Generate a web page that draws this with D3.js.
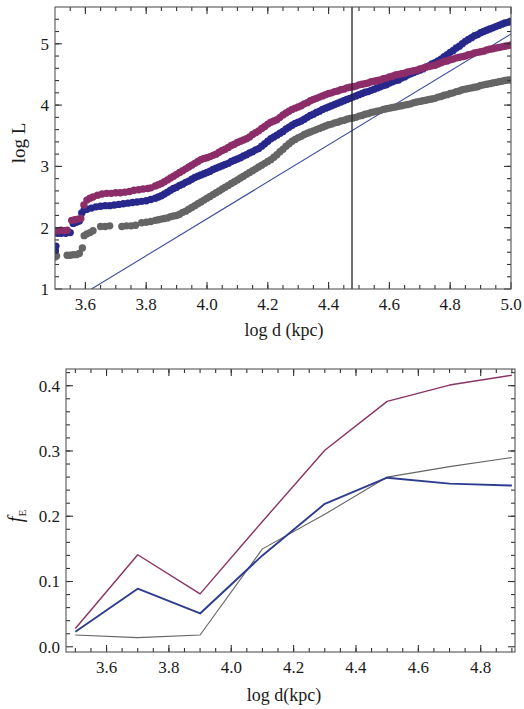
<!DOCTYPE html>
<html>
<head>
<meta charset="utf-8">
<script src="https://cdn.jsdelivr.net/npm/d3@7"></script>
<style>
  body { margin: 0; background: #fff; }
  text { font-family: "Liberation Serif", "DejaVu Serif", serif; fill: #1a1a1a; }
</style>
</head>
<body>
<svg width="524" height="709"></svg>
<script>
// ---------- top panel: log L vs log d ----------
// sparse points at small distance, [log d, log L]
var lowPurple = [[3.500,1.95],[3.510,1.95],[3.520,1.96],[3.530,1.95],[3.540,1.96],[3.555,2.12],[3.565,2.13],
  [3.575,2.14],[3.585,2.15],[3.595,2.37],[3.605,2.45],[3.615,2.48],[3.625,2.50],[3.640,2.53],[3.655,2.55],
  [3.670,2.56],[3.685,2.56],[3.700,2.57],[3.715,2.57],[3.730,2.58],[3.745,2.59],[3.760,2.61],[3.775,2.62],
  [3.790,2.63],[3.805,2.64],[3.815,2.65]];
var lowBlue = [[3.501,1.63],[3.503,1.70],[3.508,1.91],[3.520,1.91],[3.535,1.91],[3.550,1.92],[3.560,2.07],
  [3.570,2.09],[3.580,2.11],[3.588,2.24],[3.596,2.29],[3.605,2.30],[3.620,2.32],[3.635,2.34],[3.650,2.35],
  [3.665,2.36],[3.680,2.36],[3.695,2.37],[3.710,2.38],[3.725,2.39],[3.740,2.40],[3.755,2.41],[3.770,2.42],
  [3.785,2.43],[3.800,2.44],[3.815,2.46]];
var lowGray = [[3.500,1.52],[3.505,1.54],[3.540,1.55],[3.550,1.55],[3.560,1.56],[3.570,1.56],[3.580,1.58],
  [3.590,1.67],[3.596,1.87],[3.605,1.90],[3.615,1.92],[3.625,1.95],[3.650,2.02],[3.665,2.02],[3.680,2.03],
  [3.720,2.02],[3.735,2.03],[3.750,2.03],[3.765,2.04],[3.785,2.08],[3.800,2.09],[3.815,2.10]];

// dense part, shared log d
var denseD = [
  3.83,3.84,3.85,3.86,3.87,3.88,3.89,3.90,3.91,3.92,
  3.93,3.94,3.95,3.96,3.97,3.98,3.99,4.00,4.01,4.02,
  4.03,4.04,4.05,4.06,4.07,4.08,4.09,4.10,4.11,4.12,
  4.13,4.14,4.15,4.16,4.17,4.18,4.19,4.20,4.21,4.22,
  4.23,4.24,4.25,4.26,4.27,4.28,4.29,4.30,4.31,4.32,
  4.33,4.34,4.35,4.36,4.37,4.38,4.39,4.40,4.41,4.42,
  4.43,4.44,4.45,4.46,4.47,4.48,4.49,4.50,4.51,4.52,
  4.53,4.54,4.55,4.56,4.57,4.58,4.59,4.60,4.61,4.62,
  4.63,4.64,4.65,4.66,4.67,4.68,4.69,4.70,4.71,4.72,
  4.73,4.74,4.75,4.76,4.77,4.78,4.79,4.80,4.81,4.82,
  4.83,4.84,4.85,4.86,4.87,4.88,4.89,4.90,4.91,4.92,
  4.93,4.94,4.95,4.96,4.97,4.98,4.99,5.00];
var densePurple = [
  2.68,2.70,2.72,2.75,2.78,2.81,2.84,2.87,2.90,2.93,
  2.96,2.99,3.02,3.05,3.08,3.11,3.13,3.14,3.16,3.18,
  3.20,3.23,3.26,3.28,3.31,3.34,3.36,3.39,3.41,3.43,
  3.45,3.48,3.52,3.55,3.58,3.62,3.65,3.69,3.72,3.74,
  3.76,3.80,3.84,3.87,3.90,3.93,3.95,3.97,3.99,4.02,
  4.04,4.07,4.09,4.11,4.13,4.15,4.17,4.19,4.20,4.22,
  4.23,4.25,4.26,4.28,4.29,4.30,4.31,4.33,4.34,4.35,
  4.36,4.38,4.39,4.40,4.41,4.43,4.44,4.46,4.47,4.49,
  4.50,4.51,4.52,4.54,4.55,4.56,4.57,4.59,4.60,4.62,
  4.63,4.64,4.65,4.67,4.69,4.71,4.72,4.74,4.75,4.77,
  4.78,4.79,4.80,4.82,4.83,4.85,4.86,4.87,4.88,4.90,
  4.91,4.92,4.93,4.94,4.95,4.96,4.97,4.98];
var denseBlue = [
  2.48,2.50,2.52,2.55,2.58,2.61,2.64,2.66,2.69,2.71,
  2.74,2.76,2.79,2.82,2.84,2.86,2.88,2.90,2.92,2.95,
  2.97,2.99,3.01,3.03,3.05,3.08,3.10,3.12,3.14,3.17,
  3.19,3.22,3.24,3.27,3.29,3.33,3.37,3.41,3.45,3.48,
  3.51,3.54,3.57,3.61,3.64,3.67,3.70,3.72,3.74,3.77,
  3.80,3.83,3.85,3.88,3.90,3.93,3.95,3.97,3.99,4.01,
  4.03,4.05,4.07,4.09,4.11,4.13,4.15,4.17,4.19,4.21,
  4.22,4.24,4.26,4.28,4.30,4.32,4.33,4.36,4.38,4.40,
  4.41,4.44,4.46,4.49,4.51,4.53,4.55,4.57,4.59,4.62,
  4.64,4.67,4.69,4.72,4.75,4.79,4.82,4.86,4.89,4.93,
  4.96,5.00,5.04,5.07,5.10,5.13,5.15,5.18,5.20,5.22,
  5.24,5.26,5.28,5.30,5.32,5.34,5.35,5.37];
var denseGray = [
  2.12,2.13,2.14,2.15,2.16,2.18,2.19,2.20,2.22,2.25,
  2.27,2.30,2.33,2.36,2.39,2.42,2.45,2.48,2.51,2.54,
  2.57,2.60,2.63,2.66,2.69,2.72,2.75,2.78,2.81,2.84,
  2.87,2.90,2.93,2.96,2.99,3.02,3.05,3.08,3.11,3.15,
  3.19,3.24,3.28,3.33,3.37,3.41,3.44,3.47,3.49,3.52,
  3.54,3.56,3.58,3.60,3.62,3.64,3.66,3.68,3.69,3.71,
  3.72,3.74,3.75,3.77,3.78,3.79,3.80,3.82,3.83,3.85,
  3.86,3.88,3.89,3.90,3.91,3.93,3.94,3.95,3.96,3.97,
  3.98,3.99,4.00,4.01,4.02,4.04,4.05,4.06,4.07,4.08,
  4.09,4.10,4.11,4.13,4.14,4.16,4.17,4.19,4.20,4.22,
  4.23,4.25,4.26,4.27,4.28,4.29,4.30,4.32,4.33,4.34,
  4.35,4.36,4.37,4.38,4.39,4.40,4.41,4.41];

// slope-3 reference line and the vertical marker
var refLine = [[3.62,1.00],[5.00,5.16]];
var markerD = 4.477;

var topXTicks = [3.6,3.8,4.0,4.2,4.4,4.6,4.8,5.0];
var topYTicks = [1,2,3,4,5];

// ---------- bottom panel: f_E vs log d ----------
var binD = [3.5,3.7,3.9,4.1,4.3,4.5,4.7,4.9];
var fPurple = [0.028,0.141,0.081,0.192,0.301,0.376,0.401,0.416];
var fBlue   = [0.023,0.089,0.051,0.140,0.219,0.259,0.250,0.247];
var fGray   = [0.018,0.014,0.018,0.150,0.203,0.260,0.276,0.290];

var botXTicks = [3.6,3.8,4.0,4.2,4.4,4.6,4.8];
var botYTicks = [0.0,0.1,0.2,0.3,0.4];

var colPurple = "#8c2d69", colBlue = "#28288c", colGray = "#656565";

var svg = d3.select("svg");

// minor tick positions between a and b
function steps(a, b, s) {
  var n = Math.round((b - a) / s), out = [];
  for (var i = 0; i <= n; i++) out.push(+(a + i * s).toFixed(4));
  return out;
}

// frame with inward ticks on all four sides (Mathematica style)
function drawFrame(g, x, y, xMajor, xMinor, yMajor, yMinor, fx, fy) {
  var x0 = x.range()[0], x1 = x.range()[1], y0 = y.range()[0], y1 = y.range()[1];
  var t = g.append("g").attr("stroke", "#333").attr("stroke-width", 1.1);
  xMinor.forEach(function(v) {
    t.append("line").attr("x1", x(v)).attr("x2", x(v)).attr("y1", y0).attr("y2", y0 - 4);
    t.append("line").attr("x1", x(v)).attr("x2", x(v)).attr("y1", y1).attr("y2", y1 + 4);
  });
  xMajor.forEach(function(v) {
    t.append("line").attr("x1", x(v)).attr("x2", x(v)).attr("y1", y0).attr("y2", y0 - 7);
    t.append("line").attr("x1", x(v)).attr("x2", x(v)).attr("y1", y1).attr("y2", y1 + 7);
  });
  yMinor.forEach(function(v) {
    t.append("line").attr("y1", y(v)).attr("y2", y(v)).attr("x1", x0).attr("x2", x0 + 4);
    t.append("line").attr("y1", y(v)).attr("y2", y(v)).attr("x1", x1).attr("x2", x1 - 4);
  });
  yMajor.forEach(function(v) {
    t.append("line").attr("y1", y(v)).attr("y2", y(v)).attr("x1", x0).attr("x2", x0 + 7);
    t.append("line").attr("y1", y(v)).attr("y2", y(v)).attr("x1", x1).attr("x2", x1 - 7);
  });
  g.append("rect").attr("x", x0).attr("y", y1).attr("width", x1 - x0).attr("height", y0 - y1)
    .attr("fill", "none").attr("stroke", "#555").attr("stroke-width", 1.1);

  g.selectAll(".xl").data(xMajor).enter().append("text")
    .attr("x", d => x(d)).attr("y", y0 + 21).attr("text-anchor", "middle")
    .attr("font-size", 17).text(fx);
  g.selectAll(".yl").data(yMajor).enter().append("text")
    .attr("x", x0 - 6).attr("y", d => y(d)).attr("dy", "0.35em").attr("text-anchor", "end")
    .attr("font-size", 17).text(fy);
}

//--- top panel ---//
var xT = d3.scaleLinear().domain([3.5, 5.0]).range([55, 511]);
var yT = d3.scaleLinear().domain([1, 5.6]).range([289, 7]);

var gT = svg.append("g");
gT.append("clipPath").attr("id", "clipT").append("rect")
  .attr("x", 55).attr("y", 7).attr("width", 456).attr("height", 282);

var plotT = gT.append("g").attr("clip-path", "url(#clipT)");

plotT.append("line")
  .attr("x1", xT(refLine[0][0])).attr("y1", yT(refLine[0][1]))
  .attr("x2", xT(refLine[1][0])).attr("y2", yT(refLine[1][1]))
  .attr("stroke", "#3b4c9e").attr("stroke-width", 1.1);

var seriesT = [
  { col: colGray,   pts: lowGray.concat(denseD.map((d, i) => [d, denseGray[i]])) },
  { col: colBlue,   pts: lowBlue.concat(denseD.map((d, i) => [d, denseBlue[i]])) },
  { col: colPurple, pts: lowPurple.concat(denseD.map((d, i) => [d, densePurple[i]])) }
];
seriesT.forEach(function(s) {
  plotT.append("g").selectAll("circle").data(s.pts).enter().append("circle")
    .attr("cx", d => xT(d[0])).attr("cy", d => yT(d[1])).attr("r", 3.7)
    .attr("fill", s.col);
});

plotT.append("line")
  .attr("x1", xT(markerD)).attr("x2", xT(markerD)).attr("y1", yT(1)).attr("y2", yT(5.6))
  .attr("stroke", "#222").attr("stroke-width", 1.3);

drawFrame(gT, xT, yT, topXTicks, steps(3.55, 4.95, 0.05), topYTicks, steps(1.2, 5.4, 0.2),
  d => d.toFixed(1), d => d);

gT.append("text").attr("transform", "translate(25,143) rotate(-90)")
  .attr("text-anchor", "middle").attr("font-size", 19).text("log L");
gT.append("text").attr("x", 284).attr("y", 336).attr("text-anchor", "middle")
  .attr("font-size", 18).text("log d (kpc)");

//--- bottom panel ---//
var xB = d3.scaleLinear().domain([3.47, 4.91]).range([66, 515]);
var yB = d3.scaleLinear().domain([-0.008, 0.4256]).range([652, 369]);

var gB = svg.append("g");
var lineB = d3.line().x((d, i) => xB(binD[i])).y(d => yB(d));

[[fGray, colGray, 1.1], [fPurple, "#8a3262", 1.4], [fBlue, "#2e3c90", 1.9]].forEach(function(s) {
  gB.append("path").attr("d", lineB(s[0])).attr("fill", "none")
    .attr("stroke", s[1]).attr("stroke-width", s[2]).attr("stroke-linejoin", "round");
});

drawFrame(gB, xB, yB, botXTicks, steps(3.5, 4.9, 0.05), botYTicks, steps(0.02, 0.42, 0.02),
  d => d.toFixed(1), d => d.toFixed(1));

var fl = gB.append("text").attr("transform", "translate(22,516) rotate(-90)")
  .attr("text-anchor", "middle");
fl.append("tspan").attr("font-style", "italic").attr("font-size", 20).text("f");
fl.append("tspan").attr("font-size", 11).attr("dy", 4).text("E");

gB.append("text").attr("x", 284).attr("y", 701).attr("text-anchor", "middle")
  .attr("font-size", 18).text("log d(kpc)");
</script>
</body>
</html>
